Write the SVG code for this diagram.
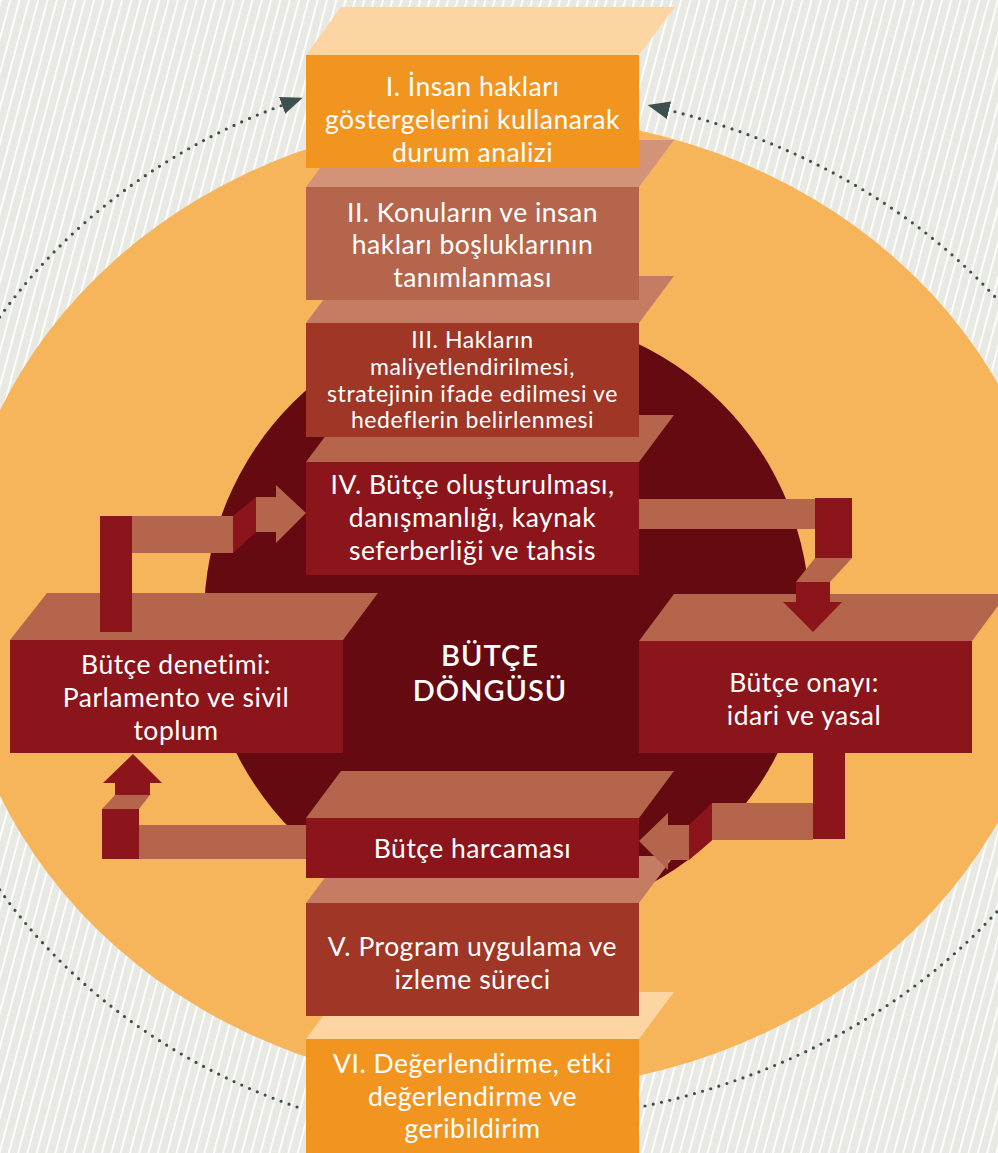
<svg xmlns="http://www.w3.org/2000/svg" width="998" height="1153" viewBox="0 0 998 1153">
<defs>
<pattern id="stripes" patternUnits="userSpaceOnUse" width="9" height="9" patternTransform="rotate(15)">
<rect width="9" height="9" fill="#e8e9e3"/>
<rect x="0" y="0" width="1.8" height="9" fill="#ffffff"/>
</pattern>
<marker id="ah" viewBox="0 0 22 18" markerWidth="22" markerHeight="18" refX="1" refY="9" orient="auto" markerUnits="userSpaceOnUse">
<path d="M0,0 L22,9 L0,18 Z" fill="#3d5050"/>
</marker>
<style>
.t{font-family:Lato,"Open Sans","Noto Sans",sans-serif;fill:#ffffff;text-anchor:middle;font-size:26.5px;letter-spacing:0.5px}
.s{font-size:23px;letter-spacing:0.6px}
.c{font-size:29px;font-weight:600;letter-spacing:1px}
.dots{fill:none;stroke:#3d5050;stroke-width:3.2;stroke-linecap:round;stroke-dasharray:0 8.5}
.f1{fill:#f29520}.tp1{fill:#fcd5a2}
.f2{fill:#b5654b}.tp2{fill:#d29379}
.f3{fill:#a03726}.tp3{fill:#c47c63}
.f4{fill:#8c151b}.tp4{fill:#b5654b}
.lt{fill:#b5654b}.dk{fill:#8c151b}
</style>
</defs>

<g id="background">
<rect width="998" height="1153" fill="url(#stripes)"/>
<path class="dots" d="M 297 1107 A 616 541 0 0 1 283 105" marker-end="url(#ah)"/>
<path class="dots" d="M 645 1106 A 640 518 0 0 0 668 110" marker-end="url(#ah)"/>
<ellipse cx="506" cy="603" rx="551" ry="487" fill="#f7b55b"/>
<circle cx="507" cy="617" r="303" fill="#650a10"/>
<text class="t c" x="490" y="666">BÜTÇE</text>
<text class="t c" x="490" y="701">DÖNGÜSÜ</text>
</g>

<g id="node-vi">
<polygon class="tp1" points="306,1039 639,1039 674,992 341,992"/>
<rect class="f1" x="306" y="1039" width="333" height="120"/>
<text class="t" x="472.5" y="1073">VI. Değerlendirme, etki</text>
<text class="t" x="472.5" y="1106">değerlendirme ve</text>
<text class="t" x="472.5" y="1138">geribildirim</text>
</g>

<g id="node-v">
<polygon class="tp3" points="306,903 639,903 674,856 341,856"/>
<rect class="f3" x="306" y="903" width="333" height="113"/>
<text class="t" x="472.5" y="956">V. Program uygulama ve</text>
<text class="t" x="472.5" y="989">izleme süreci</text>
</g>

<g id="node-harcama">
<polygon class="tp4" points="306,818 639,818 674,771 341,771"/>
<rect class="f4" x="306" y="818" width="333" height="60"/>
<text class="t" x="472.5" y="858">Bütçe harcaması</text>
</g>

<g id="node-iv">
<polygon class="tp4" points="306,462 639,462 674,415 341,415"/>
<rect class="f4" x="306" y="462" width="333" height="113"/>
<text class="t" x="472.5" y="494">IV. Bütçe oluşturulması,</text>
<text class="t" x="472.5" y="527">danışmanlığı, kaynak</text>
<text class="t" x="472.5" y="560">seferberliği ve tahsis</text>
</g>

<g id="node-iii">
<polygon class="tp3" points="306,323 639,323 674,276 341,276"/>
<rect class="f3" x="306" y="323" width="333" height="114"/>
<text class="t s" x="472.5" y="348">III. Hakların</text>
<text class="t s" x="472.5" y="375">maliyetlendirilmesi,</text>
<text class="t s" x="472.5" y="401.5">stratejinin ifade edilmesi ve</text>
<text class="t s" x="472.5" y="428">hedeflerin belirlenmesi</text>
</g>

<g id="node-ii">
<polygon class="tp2" points="306,187 639,187 674,140 341,140"/>
<rect class="f2" x="306" y="187" width="333" height="113"/>
<text class="t" x="472.5" y="222">II. Konuların ve insan</text>
<text class="t" x="472.5" y="254">hakları boşluklarının</text>
<text class="t" x="472.5" y="287">tanımlanması</text>
</g>

<g id="node-i">
<polygon class="tp1" points="306,55 639,55 675,7 341,7"/>
<rect class="f1" x="306" y="55" width="333" height="113"/>
<text class="t" x="472.5" y="96">I. İnsan hakları</text>
<text class="t" x="472.5" y="129">göstergelerini kullanarak</text>
<text class="t" x="472.5" y="162">durum analizi</text>
</g>

<g id="node-denetim">
<polygon class="tp4" points="10,640 343,640 378,593 47,593"/>
<rect class="f4" x="10" y="640" width="333" height="113"/>
<text class="t" x="176" y="674">Bütçe denetimi:</text>
<text class="t" x="176" y="707">Parlamento ve sivil</text>
<text class="t" x="176" y="740">toplum</text>
</g>

<g id="node-onay">
<polygon class="tp4" points="639,641 972,641 1007,594 674,594"/>
<rect class="f4" x="639" y="641" width="333" height="112"/>
<text class="t" x="804" y="692">Bütçe onayı:</text>
<text class="t" x="804" y="725">idari ve yasal</text>
</g>

<g id="connectors">
<rect class="dk" x="100" y="516" width="32" height="116"/>
<rect class="lt" x="132" y="516" width="101" height="37"/>
<polygon class="dk" points="233,516 256,497 256,532 233,553"/>
<polygon class="lt" points="256,497 276,497 276,485 306,513 276,543 276,532 256,532"/>

<rect class="lt" x="639" y="499" width="176" height="30"/>
<rect class="dk" x="815" y="498" width="37" height="60"/>
<polygon class="lt" points="815,558 852,558 830,582 796,582"/>
<polygon class="dk" points="796,582 830,582 830,602 842,602 813,632 783,602 796,602"/>

<rect class="dk" x="813" y="753" width="32" height="86"/>
<rect class="lt" x="712" y="803" width="101" height="37"/>
<polygon class="dk" points="689,825 712,803 712,840 689,860"/>
<polygon class="lt" points="689,825 668,825 668,813 639,841 668,870 668,860 689,860"/>

<rect class="lt" x="139" y="825" width="167" height="34"/>
<rect class="dk" x="102" y="809" width="37" height="50"/>
<polygon class="lt" points="102,809 139,809 150,795 115,795"/>
<polygon class="dk" points="115,795 150,795 150,783 162,783 133,754 103,783 115,783"/>
</g>
</svg>
